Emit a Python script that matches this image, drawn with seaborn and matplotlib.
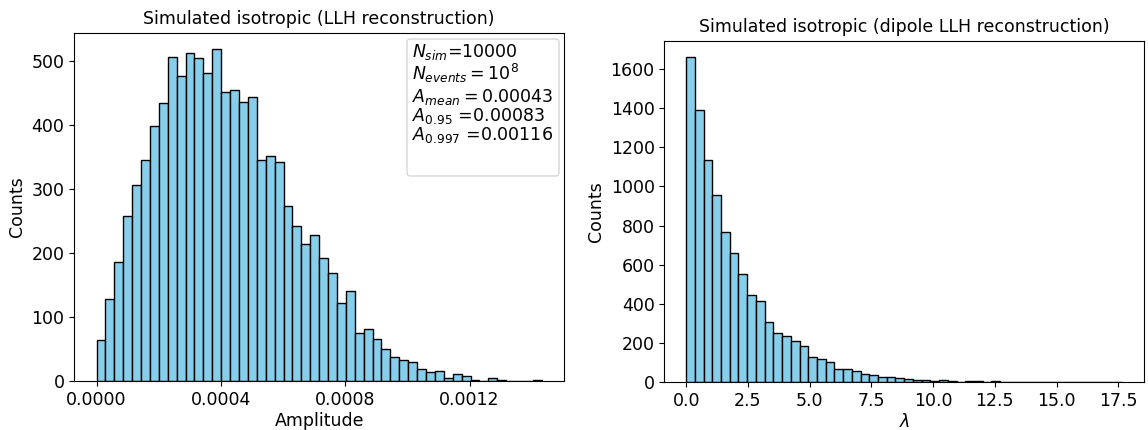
import numpy as np
import pandas as pd
import matplotlib
matplotlib.use("Agg")
import matplotlib.pyplot as plt
from matplotlib.patches import FancyBboxPatch
from matplotlib.ticker import MultipleLocator, FormatStrFormatter
import seaborn as sns

# Histogram of fitted dipole amplitudes (LLH reconstruction), 50 bins
amp_range = (0.0, 0.001432)
amp_counts = [64, 129, 186, 258, 306, 346, 398, 435, 506, 477,
              512, 504, 481, 518, 451, 454, 436, 444, 345, 351,
              343, 274, 242, 214, 228, 193, 169, 122, 141, 76,
              82, 66, 50, 38, 34, 30, 19, 15, 16, 6,
              11, 8, 3, 1, 5, 2, 1, 0, 0, 2]

# Histogram of the test statistic lambda (dipole LLH reconstruction), 50 bins
lam_range = (0.0, 17.66)
lam_counts = [1661, 1389, 1134, 958, 769, 662, 553, 444, 414, 310,
              254, 237, 213, 186, 131, 117, 106, 67, 70, 58,
              44, 38, 26, 26, 20, 17, 10, 14, 7, 10,
              7, 3, 8, 8, 2, 5, 2, 1, 2, 3,
              3, 1, 0, 1, 0, 1, 0, 1, 0, 1]

stats_lines = [
    r"$N_{sim}$=10000",
    r"$N_{events} = 10^8$",
    r"$A_{mean} = 0.00043$",
    r"$A_{0.95}$ =0.00083",
    r"$A_{0.997}$ =0.00116",
]

FS = 12.5
plt.rcParams["font.family"] = ["DejaVu Sans"]
plt.rcParams["font.size"] = FS

fig = plt.figure(figsize=(11.48, 4.30), dpi=100)
ax1 = fig.add_axes([0.0647, 0.1128, 0.4266, 0.8112])
ax2 = fig.add_axes([0.5787, 0.1109, 0.4179, 0.7944])


def draw_hist(ax, counts, rng):
    n = len(counts)
    edges = np.linspace(rng[0], rng[1], n + 1)
    df = pd.DataFrame({"value": 0.5 * (edges[:-1] + edges[1:]),
                       "count": np.asarray(counts, dtype=float)})
    sns.histplot(data=df, x="value", weights="count", bins=n, binrange=rng,
                 ax=ax, color="skyblue", edgecolor="black", linewidth=1.0,
                 alpha=1.0)


draw_hist(ax1, amp_counts, amp_range)
ax1.set_title("Simulated isotropic (LLH reconstruction)", fontsize=FS)
ax1.set_xlabel("Amplitude", fontsize=FS, labelpad=2)
ax1.set_ylabel("Counts", fontsize=FS)
ax1.xaxis.set_major_locator(MultipleLocator(0.0004))
ax1.xaxis.set_major_formatter(FormatStrFormatter("%.4f"))
ax1.yaxis.set_major_locator(MultipleLocator(100))
ax1.tick_params(labelsize=FS)

# Summary statistics box in the upper right corner
ax_w_px = 0.4266 * 1148
ax_h_px = 0.8112 * 430
r_px = 3.5
box = FancyBboxPatch((0.6794, 0.5892), 0.9898 - 0.6794, 0.9819 - 0.5892,
                     boxstyle=f"round,pad=0,rounding_size={r_px / ax_w_px}",
                     mutation_aspect=ax_w_px / ax_h_px,
                     transform=ax1.transAxes, facecolor="white",
                     edgecolor="0.8", linewidth=1.0, alpha=0.8, zorder=5)
ax1.add_patch(box)
line_y = [0.9289, 0.8630, 0.8013, 0.7454, 0.6909]
for txt, y in zip(stats_lines, line_y):
    ax1.text(0.6890, y, txt, transform=ax1.transAxes, ha="left",
             va="baseline", fontsize=FS, zorder=6)

draw_hist(ax2, lam_counts, lam_range)
ax2.set_title("Simulated isotropic (dipole LLH reconstruction)", fontsize=FS)
ax2.set_xlabel(r"$\lambda$", fontsize=FS, labelpad=2)
ax2.set_ylabel("Counts", fontsize=FS)
ax2.xaxis.set_major_locator(MultipleLocator(2.5))
ax2.yaxis.set_major_locator(MultipleLocator(200))
ax2.tick_params(labelsize=FS)

fig.savefig("out.png", dpi=100)
